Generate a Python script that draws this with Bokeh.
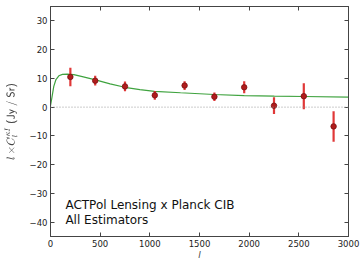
from bokeh.plotting import figure
from bokeh.models import LinearAxis, Range1d, Span, Label, FixedTicker, ColumnDataSource
from bokeh.embed import file_html
from bokeh.resources import INLINE

# Data points (binned)
ell = [200, 450, 750, 1050, 1350, 1650, 1950, 2250, 2550, 2850]
cl = [10.5, 9.2, 7.2, 4.1, 7.5, 3.6, 6.9, 0.5, 3.8, -6.7]
err = [3.2, 1.7, 1.7, 1.5, 1.5, 1.5, 2.1, 2.9, 4.5, 5.3]

# Theory curve samples
th_ell = [0, 15, 33, 55, 84, 120, 168, 235, 320, 453, 600, 748, 900, 1047, 1309, 1648, 1950, 2253, 2550, 3000]
th_cl = [0.5, 3.5, 7.2, 9.6, 10.9, 11.4, 11.5, 11.3, 10.6, 9.5, 8.1, 6.9, 6.1, 5.5, 5.0, 4.4, 4.0, 3.8, 3.7, 3.5]

x_ticks = [0, 500, 1000, 1500, 2000, 2500, 3000]
y_ticks = [-40, -30, -20, -10, 0, 10, 20, 30]

p = figure(width=360, height=262, output_backend="svg", toolbar_location=None,
           x_range=Range1d(0, 3000), y_range=Range1d(-45, 35),
           min_border_left=50, min_border_right=12, min_border_top=6, min_border_bottom=24)
p.grid.visible = False
p.outline_line_color = "#444444"
p.outline_line_width = 1
p.background_fill_color = "white"
p.border_fill_color = "white"

for ax in (p.xaxis[0], p.yaxis[0]):
    ax.major_tick_in = 4
    ax.major_tick_out = 0
    ax.minor_tick_line_color = None
    ax.axis_line_color = "#444444"
    ax.major_tick_line_color = "#444444"
    ax.major_label_text_font = "DejaVu Sans"
    ax.major_label_text_font_size = "8.5px"
    ax.major_label_text_color = "#222222"
    ax.major_label_standoff = 3

p.xaxis[0].ticker = FixedTicker(ticks=x_ticks)
p.yaxis[0].ticker = FixedTicker(ticks=y_ticks)
p.xaxis[0].axis_label = "l"
p.xaxis[0].axis_label_text_font_style = "italic"
p.xaxis[0].axis_label_text_font = "DejaVu Sans"
p.xaxis[0].axis_label_text_font_size = "9px"
p.xaxis[0].axis_label_standoff = 0
p.yaxis[0].axis_label = r"$$l\,{\times}C_l^{\kappa I}\;\mathsf{(Jy\ /\ Sr)}$$"
p.yaxis[0].axis_label_text_font_size = "9px"
p.yaxis[0].axis_label_standoff = 9

# Mirror axes for inward ticks on top and right (labels left empty)
top = LinearAxis(ticker=FixedTicker(ticks=x_ticks), major_tick_in=4, major_tick_out=0,
                 minor_tick_line_color=None, major_label_overrides={t: "" for t in x_ticks},
                 axis_line_color="#444444", major_tick_line_color="#444444", major_label_standoff=0)
right = LinearAxis(ticker=FixedTicker(ticks=y_ticks), major_tick_in=4, major_tick_out=0,
                   minor_tick_line_color=None, major_label_overrides={t: "" for t in y_ticks},
                   axis_line_color="#444444", major_tick_line_color="#444444", major_label_standoff=0)
p.add_layout(top, "above")
p.add_layout(right, "right")

# zero line
p.add_layout(Span(location=0, dimension="width", line_color="#999999", line_dash="1 2", line_width=1))

# theory
p.line(th_ell, th_cl, line_color="#3fa33f", line_width=1.2)

src = ColumnDataSource(dict(x=ell, y=cl,
                            lo=[c - e for c, e in zip(cl, err)],
                            hi=[c + e for c, e in zip(cl, err)]))
p.segment(x0="x", y0="lo", x1="x", y1="hi", source=src, line_color="#dd2222", line_width=2.2, line_alpha=0.9)
p.scatter(x="x", y="y", source=src, size=5.5, fill_color="#b01c1c", line_color="#7a1010", line_width=0.8)

p.add_layout(Label(x=150, y=-33.9, text="ACTPol Lensing x Planck CIB", text_font="DejaVu Sans",
                   text_font_size="12px", text_baseline="middle", text_color="#111111"))
p.add_layout(Label(x=150, y=-39.3, text="All Estimators", text_font="DejaVu Sans",
                   text_font_size="12px", text_baseline="middle", text_color="#111111"))

open("out.html", "w").write(file_html(p, INLINE))
